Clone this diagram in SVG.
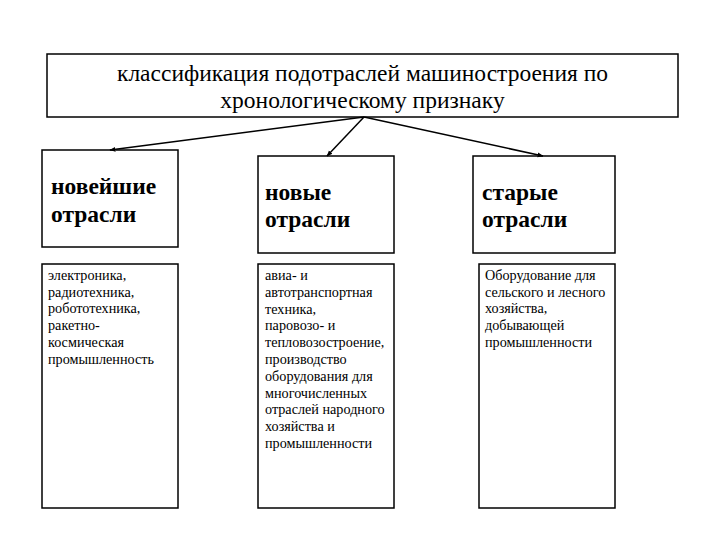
<svg xmlns="http://www.w3.org/2000/svg" width="720" height="540" viewBox="0 0 720 540">
<style>
.box{fill:#fff;stroke:#000;stroke-width:1.5}
.title{font-family:"Liberation Serif","DejaVu Serif",serif;font-size:23.5px;fill:#000;text-anchor:middle}
.head{font-family:"Liberation Serif","DejaVu Serif",serif;font-size:23.5px;font-weight:bold;fill:#000}
.body{font-family:"Liberation Serif","DejaVu Serif",serif;font-size:14.2px;fill:#000}
.conn{stroke:#000;stroke-width:1.5;fill:none;marker-end:url(#arr)}
</style>
<defs>
<marker id="arr" viewBox="0 0 10 10" refX="9" refY="5" markerWidth="6" markerHeight="6" orient="auto" markerUnits="userSpaceOnUse">
<path d="M0,1 L10,5 L0,9 Z" fill="#000"/>
</marker>
</defs>
<rect width="720" height="540" fill="#fff"/>
<g id="root">
<rect class="box" x="47" y="54" width="631" height="63"/>
<text class="title" x="362.5" y="81">классификация подотраслей машиностроения по</text>
<text class="title" x="362.5" y="108">хронологическому признаку</text>
</g>
<g id="newest">
<rect class="box" x="42" y="150" width="136" height="97"/>
<text class="head" x="51" y="194">новейшие</text>
<text class="head" x="51" y="222">отрасли</text>
</g>
<g id="new">
<rect class="box" x="258" y="156" width="136" height="97"/>
<text class="head" x="265" y="200">новые</text>
<text class="head" x="265" y="227">отрасли</text>
</g>
<g id="old">
<rect class="box" x="473" y="156" width="142" height="97"/>
<text class="head" x="482" y="200">старые</text>
<text class="head" x="482" y="227">отрасли</text>
</g>
<g id="newest-list">
<rect class="box" x="42" y="264" width="136" height="244"/>
<text class="body">
<tspan x="48" y="280">электроника,</tspan>
<tspan x="48" y="296.7">радиотехника,</tspan>
<tspan x="48" y="313.4">робототехника,</tspan>
<tspan x="48" y="330.1">ракетно-</tspan>
<tspan x="48" y="346.8">космическая</tspan>
<tspan x="48" y="363.5">промышленность</tspan>
</text>
</g>
<g id="new-list">
<rect class="box" x="258" y="264" width="136" height="244"/>
<text class="body">
<tspan x="265" y="280">авиа- и</tspan>
<tspan x="265" y="296.8">автотранспортная</tspan>
<tspan x="265" y="313.6">техника,</tspan>
<tspan x="265" y="330.4">паровозо- и</tspan>
<tspan x="265" y="347.2">тепловозостроение,</tspan>
<tspan x="265" y="364">производство</tspan>
<tspan x="265" y="380.8">оборудования для</tspan>
<tspan x="265" y="397.6">многочисленных</tspan>
<tspan x="265" y="414.4">отраслей народного</tspan>
<tspan x="265" y="431.2">хозяйства и</tspan>
<tspan x="265" y="448">промышленности</tspan>
</text>
</g>
<g id="old-list">
<rect class="box" x="479" y="264" width="136" height="244"/>
<text class="body">
<tspan x="485" y="280">Оборудование для</tspan>
<tspan x="485" y="296.7">сельского и лесного</tspan>
<tspan x="485" y="313.4">хозяйства,</tspan>
<tspan x="485" y="330.1">добывающей</tspan>
<tspan x="485" y="346.8">промышленности</tspan>
</text>
</g>
<g id="connectors">
<line class="conn" x1="364" y1="117" x2="110" y2="150"/>
<line class="conn" x1="364" y1="117" x2="327" y2="156"/>
<line class="conn" x1="364" y1="117" x2="543" y2="156"/>
</g>
</svg>
